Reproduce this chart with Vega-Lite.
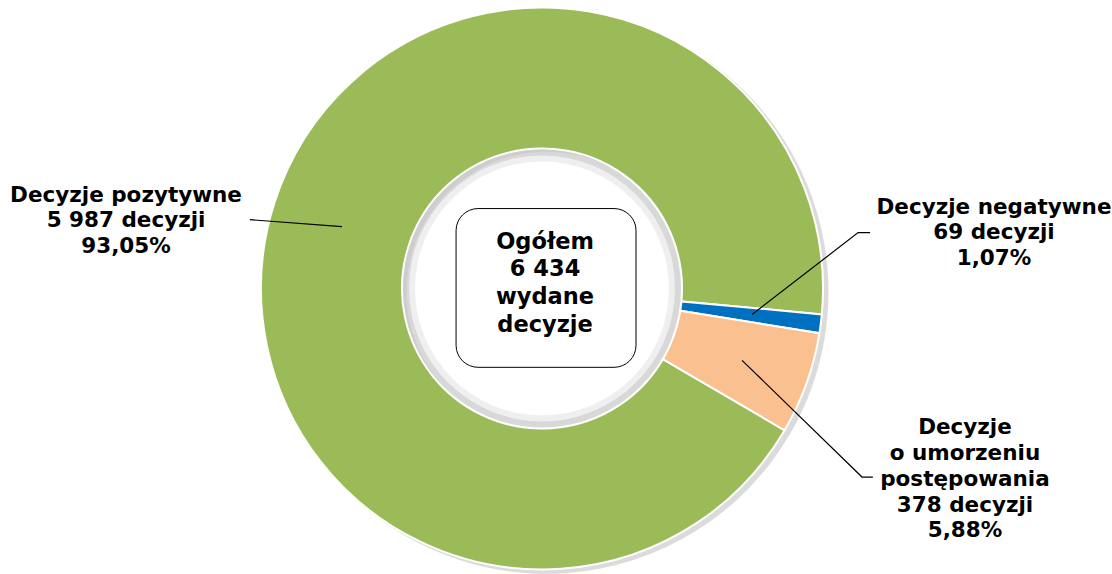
{
  "$schema": "https://vega.github.io/schema/vega-lite/v6.json",
  "width": 1112,
  "height": 574,
  "padding": 0,
  "autosize": {"type": "fit", "contains": "padding"},
  "background": "white",
  "config": {"view": {"stroke": null}, "font": "DejaVu Sans"},
  "datasets": {
    "segments": [
      {"kategoria": "Decyzje pozytywne", "decyzje": 5987, "ord": 1},
      {"kategoria": "Decyzje negatywne", "decyzje": 69, "ord": 2},
      {"kategoria": "Decyzje o umorzeniu postępowania", "decyzje": 378, "ord": 3}
    ],
    "labels": [
      {"kategoria": "Decyzje pozytywne", "tekst": "Decyzje pozytywne\n5 987 decyzji\n93,05%", "lx": -1.491, "ly": 0.3333},
      {"kategoria": "Decyzje negatywne", "tekst": "Decyzje negatywne\n69 decyzji\n1,07%", "lx": 1.62, "ly": 0.2903},
      {"kategoria": "Decyzje o umorzeniu postępowania", "tekst": "Decyzje\no umorzeniu\npostępowania\n378 decyzji\n5,88%", "lx": 1.516, "ly": -0.5018}
    ],
    "leaders": [
      {"kategoria": "Decyzje pozytywne", "p": 1, "lx": -1.047, "ly": 0.247},
      {"kategoria": "Decyzje pozytywne", "p": 2, "lx": -0.717, "ly": 0.222},
      {"kategoria": "Decyzje negatywne", "p": 1, "lx": 1.176, "ly": 0.2007},
      {"kategoria": "Decyzje negatywne", "p": 2, "lx": 1.133, "ly": 0.2007},
      {"kategoria": "Decyzje negatywne", "p": 3, "lx": 0.753, "ly": -0.0932},
      {"kategoria": "Decyzje o umorzeniu postępowania", "p": 1, "lx": 0.717, "ly": -0.258},
      {"kategoria": "Decyzje o umorzeniu postępowania", "p": 2, "lx": 1.147, "ly": -0.677},
      {"kategoria": "Decyzje o umorzeniu postępowania", "p": 3, "lx": 1.186, "ly": -0.677}
    ],
    "centre": [
      {"tekst": "Ogółem\n6 434\nwydane\ndecyzje", "x0": -0.308, "x1": 0.337, "y0": 0.287, "y1": -0.283, "tx": 0.011, "ty": 0.1685}
    ]
  },
  "layer": [
    {
      "data": {"name": "segments"},
      "mark": {"type": "arc", "outerRadius": 282, "innerRadius": 140, "color": "#000000", "opacity": 0.14},
      "encoding": {
        "x": {"datum": 0.016, "type": "quantitative", "scale": {"domain": [-1.9427, 2.043], "nice": false, "zero": false}, "axis": null},
        "y": {"datum": -0.012, "type": "quantitative", "scale": {"domain": [-1.0215, 1.0358], "nice": false, "zero": false}, "axis": null},
        "theta": {"field": "decyzje", "type": "quantitative", "stack": true, "scale": {"range": [2.0996, 8.3828]}}
      }
    },
    {
      "data": {"name": "segments"},
      "mark": {"type": "arc", "outerRadius": 281, "innerRadius": 140, "stroke": "white", "strokeWidth": 2},
      "encoding": {
        "x": {"datum": 0, "type": "quantitative"},
        "y": {"datum": 0, "type": "quantitative"},
        "theta": {"field": "decyzje", "type": "quantitative", "stack": true, "scale": {"range": [2.0996, 8.3828]}},
        "order": {"field": "ord", "type": "quantitative"},
        "color": {
          "field": "kategoria", "type": "nominal",
          "scale": {"domain": ["Decyzje pozytywne", "Decyzje negatywne", "Decyzje o umorzeniu postępowania"], "range": ["#9BBB59", "#0070C0", "#FAC090"]},
          "legend": null
        }
      }
    },
    {
      "data": {"values": [{"a": 1}]},
      "mark": {"type": "arc", "outerRadius": 139, "innerRadius": 127, "color": "#dcdcdc", "opacity": 0.45, "theta": 0, "theta2": 6.2832},
      "encoding": {
        "x": {"datum": 0, "type": "quantitative"},
        "y": {"datum": 0, "type": "quantitative"}
      }
    },
    {
      "data": {"values": [{"a": 1}]},
      "mark": {"type": "arc", "outerRadius": 139, "innerRadius": 133, "color": "#bcbcbc", "opacity": 0.45, "theta": 0, "theta2": 6.2832},
      "encoding": {
        "x": {"datum": 0, "type": "quantitative"},
        "y": {"datum": 0, "type": "quantitative"}
      }
    },
    {
      "data": {"name": "centre"},
      "mark": {"type": "rect", "fill": "white", "stroke": "black", "strokeWidth": 1, "cornerRadius": 22},
      "encoding": {
        "x": {"field": "x0", "type": "quantitative"},
        "x2": {"field": "x1"},
        "y": {"field": "y0", "type": "quantitative"},
        "y2": {"field": "y1"}
      }
    },
    {
      "data": {"name": "centre"},
      "mark": {"type": "text", "font": "DejaVu Sans", "fontWeight": "bold", "fontSize": 22.5, "lineBreak": "\n", "lineHeight": 27.7, "align": "center", "baseline": "middle", "color": "black"},
      "encoding": {
        "x": {"field": "tx", "type": "quantitative"},
        "y": {"field": "ty", "type": "quantitative"},
        "text": {"field": "tekst", "type": "nominal"}
      }
    },
    {
      "data": {"name": "leaders"},
      "mark": {"type": "line", "color": "black", "strokeWidth": 1.2},
      "encoding": {
        "x": {"field": "lx", "type": "quantitative"},
        "y": {"field": "ly", "type": "quantitative"},
        "detail": {"field": "kategoria", "type": "nominal"},
        "order": {"field": "p", "type": "quantitative"}
      }
    },
    {
      "data": {"name": "labels"},
      "mark": {"type": "text", "font": "DejaVu Sans", "fontWeight": "bold", "fontSize": 21.5, "lineBreak": "\n", "lineHeight": 25.8, "align": "center", "baseline": "middle", "color": "black"},
      "encoding": {
        "x": {"field": "lx", "type": "quantitative"},
        "y": {"field": "ly", "type": "quantitative"},
        "text": {"field": "tekst", "type": "nominal"}
      }
    }
  ]
}
